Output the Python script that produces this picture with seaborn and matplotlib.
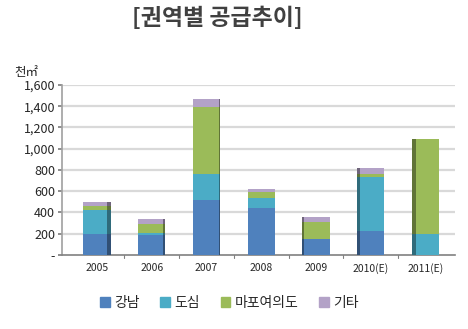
import matplotlib
matplotlib.use("Agg")
import matplotlib.pyplot as plt
import seaborn as sns
import pandas as pd
import numpy as np
from matplotlib.patches import Rectangle

years = ["2005", "2006", "2007", "2008", "2009", "2010(E)", "2011(E)"]
gangnam = [200, 190, 520, 440, 150, 230, 0]
dosim = [220, 20, 240, 100, 0, 500, 200]
mapo = [40, 80, 630, 50, 160, 30, 890]
gita = [35, 50, 80, 35, 50, 55, 0]
series_names = ["강남", "도심", "마포여의도", "기타"]
series_colors = ["#4F81BD", "#4BACC6", "#9BBB59", "#B3A2C7"]
y_ticks = [0, 200, 400, 600, 800, 1000, 1200, 1400, 1600]
y_labels = ["-", "200", "400", "600", "800", "1,000", "1,200", "1,400", "1,600"]

sns.set_theme(style="white")
plt.rcParams["font.family"] = ["Noto Sans CJK KR", "DejaVu Sans"]

fig = plt.figure(figsize=(4.68, 3.29), dpi=100)
ax = fig.add_axes([0.1325, 0.225, 0.84, 0.517])

df = pd.DataFrame({"year": years, "강남": gangnam, "도심": dosim,
                   "마포여의도": mapo, "기타": gita})
stack = df[series_names].cumsum(axis=1)

# stacked bars: draw cumulative totals from the top layer down
for name, color in reversed(list(zip(series_names, series_colors))):
    sns.barplot(x=df["year"], y=stack[name], color=color, width=0.5,
                saturation=1, ax=ax, zorder=3, linewidth=0)

# darker side face on each bar, on the side facing away from the centre
side_w = [0.07, 0.05, 0.03, 0.0, 0.03, 0.05, 0.07]
for name, color in zip(series_names, series_colors):
    prev = stack[name] - df[name]
    side = tuple(c * 0.62 for c in matplotlib.colors.to_rgb(color))
    for i in range(len(years)):
        h = df[name][i]
        w = side_w[i]
        if h > 0 and w > 0:
            x0 = i + 0.25 - w if i < 3 else i - 0.25
            ax.add_patch(Rectangle((x0, prev[i]), w, h, color=side,
                                   zorder=4, linewidth=0))

for t in y_ticks[1:]:
    ax.axhline(t, color="#D9D9D9", lw=1.6, zorder=1)

ax.set_xlim(-0.64, 6.54)
ax.set_ylim(0, 1600)
ax.set_yticks(y_ticks)
ax.set_yticklabels(y_labels, fontsize=9)
ax.set_xlabel("")
ax.set_ylabel("")
ax.tick_params(axis="x", labelsize=7.5, length=0, pad=6)
ax.tick_params(axis="y", length=3, color="#808080", left=True, pad=2)
ax.set_xticks(range(len(years)))
ax.set_xticklabels(years)
for i in range(len(years) - 1):
    ax.plot([i + 0.5, i + 0.5], [0, -25], color="#808080", lw=0.8,
            clip_on=False, zorder=5)

for s in ["top", "right"]:
    ax.spines[s].set_visible(False)
ax.spines["left"].set_color("#A0A0A0")
ax.spines["bottom"].set_color("#808080")
ax.spines["left"].set_linewidth(1.2)
ax.spines["bottom"].set_linewidth(1.2)

fig.text(0.465, 0.945, "[권역별 공급추이]", fontsize=16.5, fontweight="bold",
         color="#404040", ha="center", va="center")
fig.text(0.03, 0.78, "천㎡", fontsize=9, ha="left", va="center")

handles = [Rectangle((0, 0), 1, 1, color=c) for c in series_colors]
fig.legend(handles, series_names, loc="center", bbox_to_anchor=(0.49, 0.08),
           ncol=4, frameon=False, fontsize=10, handlelength=0.7,
           handleheight=0.7, handletextpad=0.3, columnspacing=1.5)

fig.savefig("out.png", dpi=100)
